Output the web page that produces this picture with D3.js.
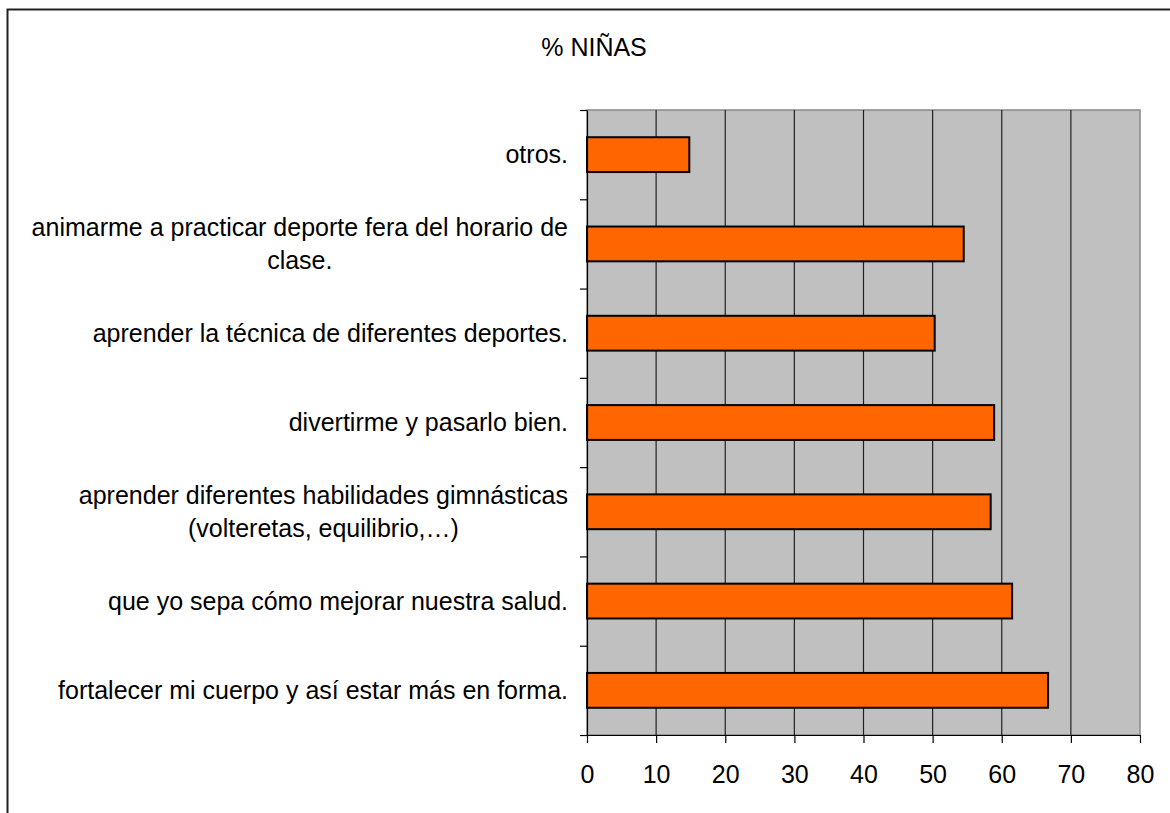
<!DOCTYPE html>
<html>
<head>
<meta charset="utf-8">
<script src="https://cdn.jsdelivr.net/npm/d3@7"></script>
<style>
  body { margin: 0; background: #fff; }
  svg { display: block; font-family: "Liberation Sans", Arial, sans-serif; }
</style>
</head>
<body>
<div id="chart"></div>
<script>
// data (top to bottom)
const categories = [
    "otros.",
    "animarme a practicar deporte fera del horario de\nclase.",
    "aprender la técnica de diferentes deportes.",
    "divertirme y pasarlo bien.",
    "aprender diferentes habilidades gimnásticas\n(volteretas, equilibrio,…)",
    "que yo sepa cómo mejorar nuestra salud.",
    "fortalecer mi cuerpo y así estar más en forma."
];
const values = [14.8, 54.5, 50.3, 58.9, 58.4, 61.5, 66.7];
const xTicks = [0, 10, 20, 30, 40, 50, 60, 70, 80];
const title = "% NIÑAS";

const W = 1170, H = 813;
const margin = { top: 110, right: 30, bottom: 78, left: 587 },
    width = 1140 - margin.left,
    height = 735 - margin.top;

const svg = d3.select("#chart")
    .append("svg")
    .attr("width", W)
    .attr("height", H);

// outer frame
svg.append("rect")
    .attr("x", 7.5)
    .attr("y", 9.5)
    .attr("width", W + 20)
    .attr("height", H + 20)
    .attr("fill", "none")
    .attr("stroke", "#222")
    .attr("stroke-width", 2);

svg.append("text")
    .attr("x", 594)
    .attr("y", 56)
    .attr("text-anchor", "middle")
    .attr("font-size", 25)
    .attr("fill", "#000")
    .text(title);

const g = svg.append("g")
    .attr("transform", `translate(${margin.left},${margin.top})`);

const x = d3.scaleLinear()
    .domain([0, 80])
    .range([0, width]);

const y = d3.scaleBand()
    .domain(categories)
    .range([0, height])
    .paddingInner(0.61)
    .paddingOuter(0.305);

const yIdx = d3.scaleLinear()
    .domain([0, categories.length])
    .range([0, height]);

// plot background
g.append("rect")
    .attr("width", width)
    .attr("height", height)
    .attr("fill", "#c0c0c0")
    .attr("stroke", "#888")
    .attr("stroke-width", 1.5);

// vertical grid
g.selectAll("line.grid")
    .data(xTicks.slice(1, -1))
    .enter()
    .append("line")
    .attr("class", "grid")
    .attr("x1", d => x(d))
    .attr("x2", d => x(d))
    .attr("y1", 0)
    .attr("y2", height)
    .attr("stroke", "#222")
    .attr("stroke-width", 1.2);

// bars
g.selectAll("rect.bar")
    .data(values)
    .enter()
    .append("rect")
    .attr("class", "bar")
    .attr("x", 0)
    .attr("y", (d, i) => y(categories[i]))
    .attr("width", d => x(d))
    .attr("height", y.bandwidth())
    .attr("fill", "#ff6600")
    .attr("stroke", "#000")
    .attr("stroke-width", 2);

// y axis: ticks on band boundaries
const yAxis = d3.axisLeft(yIdx)
    .tickValues(d3.range(categories.length + 1))
    .tickFormat("")
    .tickSize(7)
    .tickSizeOuter(0);

g.append("g")
    .attr("class", "axis y-axis")
    .call(yAxis)
    .call(s => s.selectAll("line, path").attr("stroke", "#000").attr("stroke-width", 1.2));

// x axis
const xAxis = d3.axisBottom(x)
    .tickValues(xTicks)
    .tickSize(8)
    .tickSizeOuter(0)
    .tickPadding(22);

g.append("g")
    .attr("class", "axis x-axis")
    .attr("transform", `translate(0,${height})`)
    .call(xAxis)
    .call(s => s.selectAll("line, path").attr("stroke", "#000").attr("stroke-width", 1.2))
    .call(s => s.selectAll("text")
        .attr("font-size", 25)
        .attr("font-family", "Liberation Sans, Arial, sans-serif")
        .attr("fill", "#000"));

// category labels, right aligned block, lines centred within it
const lineH = 33;
const labelRight = -19;
categories.forEach((c, i) => {
    const lines = c.split("\n");
    const cy = y(c) + y.bandwidth() / 2;
    const lg = g.append("g");
    const texts = lines.map((ln, j) => lg.append("text")
        .attr("y", cy + (j - (lines.length - 1) / 2) * lineH)
        .attr("dy", "0.35em")
        .attr("font-size", 25)
        .attr("fill", "#000")
        .attr("text-anchor", "middle")
        .text(ln));
    const maxW = d3.max(texts, t => t.node().getComputedTextLength());
    texts.forEach(t => t.attr("x", labelRight - maxW / 2));
});
</script>
</body>
</html>
